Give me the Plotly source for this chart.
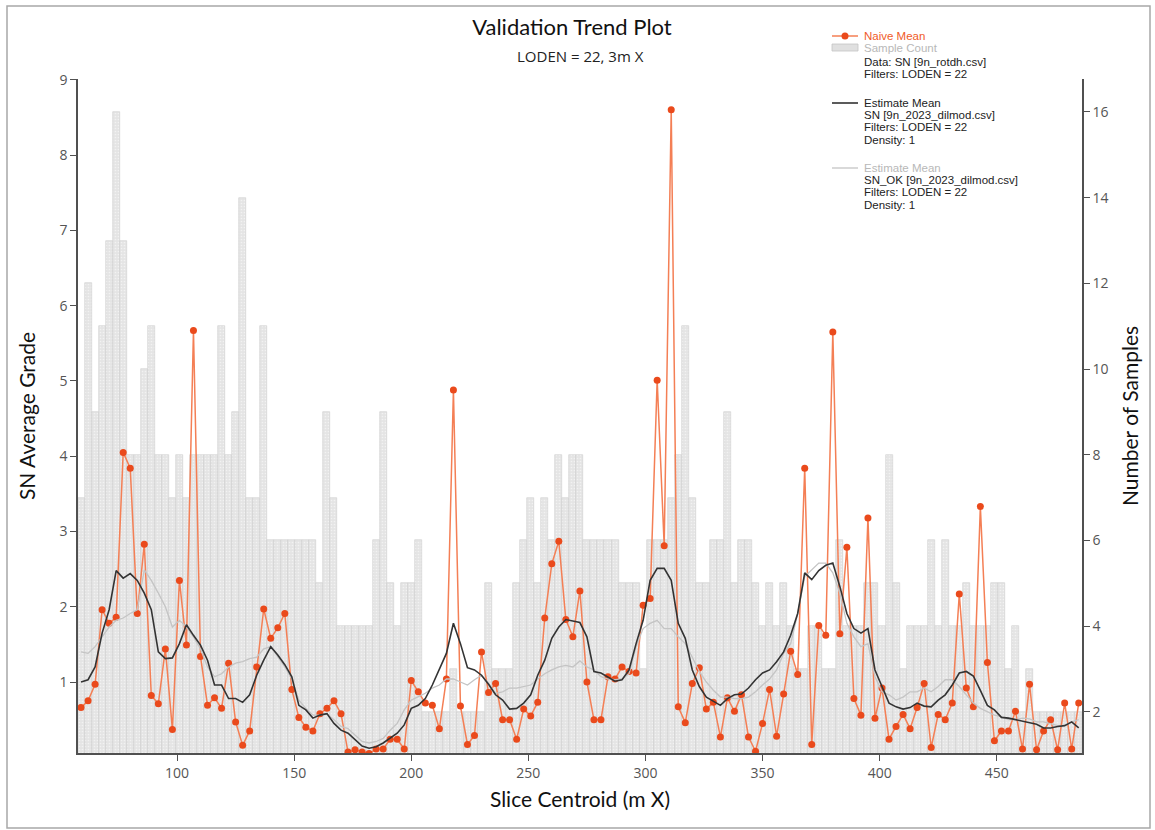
import plotly.graph_objects as go

# ---------------- data ----------------
SLICE_START = 59   # first slice centroid (m X)
SLICE_STEP = 3     # 3 m slices
N_SLICES = 143
slice_x = [SLICE_START + SLICE_STEP * i for i in range(N_SLICES)]

naive_mean = [
    0.66, 0.75, 0.97, 1.96, 1.78, 1.86, 4.05, 3.84, 1.91, 2.83,
    0.82, 0.71, 1.44, 0.37, 2.35, 1.49, 5.67, 1.34, 0.69, 0.79,
    0.65, 1.25, 0.47, 0.16, 0.35, 1.20, 1.97, 1.58, 1.72, 1.91,
    0.90, 0.53, 0.40, 0.35, 0.58, 0.65, 0.75, 0.58, 0.07, 0.10,
    0.07, 0.05, 0.11, 0.11, 0.24, 0.24, 0.11, 1.02, 0.87, 0.72,
    0.69, 0.38, 1.04, 4.88, 0.68, 0.17, 0.29, 1.40, 0.86, 0.98,
    0.50, 0.50, 0.24, 0.64, 0.55, 0.73, 1.85, 2.57, 2.87, 1.83,
    1.60, 2.21, 1.00, 0.50, 0.50, 1.07, 1.04, 1.20, 1.14, 1.12,
    2.02, 2.11, 5.01, 2.81, 8.60, 0.67, 0.46, 0.98, 1.19, 0.64,
    0.73, 0.27, 0.79, 0.61, 0.83, 0.27, 0.08, 0.45, 0.90, 0.28,
    0.84, 1.41, 1.10, 3.84, 0.17, 1.75, 1.62, 5.65, 1.64, 2.79,
    0.78, 0.56, 3.18, 0.52, 0.92, 0.24, 0.41, 0.57, 0.38, 0.66,
    0.98, 0.13, 0.57, 0.50, 0.72, 2.17, 0.92, 0.67, 3.33, 1.26,
    0.22, 0.35, 0.35, 0.61, 0.11, 0.97, 0.10, 0.35, 0.50, 0.10,
    0.72, 0.11, 0.72,
]

estimate_sn = [
    1.00, 1.03, 1.20, 1.65, 1.96, 2.48, 2.38, 2.44, 2.35, 2.18,
    1.96, 1.40, 1.31, 1.32, 1.51, 1.76, 1.62, 1.49, 1.29, 0.96,
    0.96, 0.78, 0.78, 0.73, 0.83, 1.09, 1.29, 1.47, 1.36, 1.23,
    1.07, 0.69, 0.63, 0.52, 0.56, 0.58, 0.45, 0.36, 0.32, 0.23,
    0.15, 0.12, 0.14, 0.19, 0.25, 0.32, 0.43, 0.65, 0.69, 0.78,
    0.96, 1.16, 1.38, 1.78, 1.51, 1.19, 1.16, 1.09, 0.97, 0.83,
    0.76, 0.64, 0.65, 0.72, 0.83, 1.09, 1.29, 1.58, 1.73, 1.83,
    1.81, 1.79, 1.60, 1.14, 1.12, 1.06, 1.01, 1.03, 1.16, 1.51,
    1.82, 2.35, 2.51, 2.51, 2.35, 1.78, 1.58, 1.16, 0.94, 0.80,
    0.74, 0.69, 0.78, 0.83, 0.84, 0.92, 1.03, 1.12, 1.16, 1.27,
    1.40, 1.62, 1.91, 2.45, 2.36, 2.48, 2.55, 2.58, 2.27, 1.91,
    1.71, 1.65, 1.71, 1.16, 0.94, 0.72, 0.67, 0.64, 0.66, 0.72,
    0.68, 0.67, 0.76, 0.83, 0.96, 1.12, 1.14, 1.08, 0.89, 0.69,
    0.63, 0.53, 0.52, 0.50, 0.47, 0.46, 0.44, 0.39, 0.39, 0.41,
    0.42, 0.47, 0.39,
]

estimate_sn_ok = [
    1.40, 1.38, 1.47, 1.60, 1.73, 1.82, 1.85, 1.91, 1.96, 2.49,
    2.35, 2.18, 2.00, 1.73, 1.82, 1.73, 1.60, 1.44, 1.20, 1.07,
    1.11, 1.20, 1.25, 1.27, 1.31, 1.33, 1.44, 1.47, 1.33, 1.20,
    1.04, 0.76, 0.65, 0.56, 0.56, 0.58, 0.50, 0.41, 0.38, 0.30,
    0.21, 0.19, 0.21, 0.25, 0.36, 0.45, 0.63, 0.76, 0.80, 0.85,
    0.92, 0.96, 1.04, 1.04, 1.00, 0.96, 1.03, 1.09, 0.98, 0.85,
    0.87, 0.92, 0.92, 0.94, 0.96, 1.04, 1.11, 1.16, 1.20, 1.22,
    1.20, 1.28, 1.20, 1.16, 1.07, 1.04, 1.03, 1.04, 1.11, 1.47,
    1.71, 1.78, 1.82, 1.71, 1.71, 1.60, 1.51, 1.33, 1.14, 1.00,
    0.89, 0.80, 0.80, 0.78, 0.78, 0.80, 0.87, 0.96, 1.04, 1.16,
    1.38, 1.51, 1.91, 2.40, 2.49, 2.58, 2.58, 2.45, 2.18, 1.78,
    1.60, 1.47, 1.51, 1.07, 0.87, 0.83, 0.76, 0.80, 0.87, 0.87,
    0.92, 0.87, 0.94, 1.03, 1.03, 0.94, 0.83, 0.72, 0.65, 0.61,
    0.56, 0.54, 0.50, 0.50, 0.52, 0.51, 0.47, 0.47, 0.45, 0.42,
    0.42, 0.47, 0.50,
]

sample_count = [
    7, 12, 9, 11, 13, 16, 13, 8, 8, 10,
    11, 8, 8, 7, 8, 7, 8, 8, 8, 8,
    11, 8, 9, 14, 7, 7, 11, 6, 6, 6,
    6, 6, 6, 6, 5, 9, 7, 4, 4, 4,
    4, 4, 6, 9, 5, 4, 5, 5, 6, 2,
    2, 2, 2, 3, 2, 2, 2, 2, 5, 3,
    3, 3, 5, 6, 7, 5, 7, 6, 8, 7,
    8, 8, 6, 6, 6, 6, 6, 5, 5, 5,
    3, 6, 6, 6, 7, 8, 11, 7, 5, 5,
    6, 6, 9, 5, 6, 6, 5, 4, 5, 4,
    5, 4, 3, 3, 4, 4, 3, 3, 6, 4,
    4, 4, 5, 5, 4, 8, 5, 3, 4, 4,
    4, 6, 4, 6, 4, 4, 5, 4, 4, 4,
    5, 5, 3, 4, 2, 3, 2, 2, 2, 2,
    2, 2, 2,
]

x_ticks = [100, 150, 200, 250, 300, 350, 400, 450]
grade_ticks = [1, 2, 3, 4, 5, 6, 7, 8, 9]
count_ticks = [2, 4, 6, 8, 10, 12, 14, 16]

# legend text blocks (line by line)
legend_blocks = [
    [("Naive Mean", "#f05a28")],
    [("Sample Count", "#b8b8b8"), ("Data: SN [9n_rotdh.csv]", "#222222"),
     ("Filters: LODEN = 22", "#222222")],
    [("Estimate Mean", "#222222"), ("SN [9n_2023_dilmod.csv]", "#222222"),
     ("Filters: LODEN = 22", "#222222"), ("Density: 1", "#222222")],
    [("Estimate Mean", "#b8b8b8"), ("SN_OK [9n_2023_dilmod.csv]", "#222222"),
     ("Filters: LODEN = 22", "#222222"), ("Density: 1", "#222222")],
]

# ---------------- style / geometry ----------------
W, H = 1155, 830
ML, MR, MT, MB = 78, 73, 79, 77
PW, PH = W - ML - MR, H - MT - MB


def px_x(p):
    return (p - ML) / PW


def px_y(p):
    return (H - MB - p) / PH


ORANGE_LINE = "#f47f55"
ORANGE_MARK = "#ea4a1c"
AXIS_COL = "#505050"
TICK_FONT = dict(family="Open Sans", size=14, color="#555555")
TITLE_FONT = dict(family="Lato", size=21, color="#111111")
LEG_FONT = "Liberation Sans"

fig = go.Figure()

fig.add_trace(go.Bar(
    x=slice_x, y=sample_count, width=SLICE_STEP, yaxis="y", showlegend=False,
    name="Sample Count",
    marker=dict(color="#e4e4e4", line=dict(color="#cfcfcf", width=0.6),
                pattern=dict(shape=".", fgcolor="#ffffff", size=3, solidity=0.25, fillmode="overlay")),
))

fig.add_trace(go.Scatter(
    x=slice_x, y=naive_mean, yaxis="y2", mode="lines+markers", showlegend=False,
    name="Naive Mean",
    line=dict(color=ORANGE_LINE, width=1.5),
    marker=dict(color=ORANGE_MARK, size=7),
))

fig.add_trace(go.Scatter(
    x=slice_x, y=estimate_sn_ok, yaxis="y2", mode="lines", showlegend=False,
    name="Estimate Mean SN_OK",
    line=dict(color="#c4c4c4", width=1.3),
))

fig.add_trace(go.Scatter(
    x=slice_x, y=estimate_sn, yaxis="y2", mode="lines", showlegend=False,
    name="Estimate Mean SN",
    line=dict(color="#333333", width=1.6),
))

axis_common = dict(showgrid=False, zeroline=False, showline=True, linecolor=AXIS_COL,
                   linewidth=1.5, ticks="outside", ticklen=6, tickcolor=AXIS_COL,
                   tickwidth=1.2, tickfont=TICK_FONT)

# ---- legend drawn as annotations + small symbols ----
annotations = [dict(text="LODEN = 22, 3m X", xref="paper", yref="paper",
                    x=px_x(580), y=px_y(56), xanchor="center", yanchor="middle",
                    showarrow=False, font=dict(family="Open Sans", size=15, color="#222222"))]
shapes = [dict(type="rect", xref="paper", yref="paper",
               x0=px_x(7), x1=px_x(1150), y0=px_y(828), y1=px_y(6),
               line=dict(color="#a8a8a8", width=1.5), fillcolor="rgba(0,0,0,0)", layer="below")]

block_tops = [36, 48, 103, 168]
line_h = 12.2
TEXT_X = 862
for bi, block in enumerate(legend_blocks):
    y0 = block_tops[bi]
    for li, (txt, col) in enumerate(block):
        yy = y0 + li * line_h + (1.8 if (bi == 1 and li >= 1) else 0)
        annotations.append(dict(text=txt, xref="paper", yref="paper", x=px_x(TEXT_X), y=px_y(yy),
                                xanchor="left", yanchor="middle", showarrow=False,
                                font=dict(family=LEG_FONT, size=11.5, color=col)))

SYM_X0, SYM_X1 = 832, 858
# Naive mean symbol
shapes.append(dict(type="line", xref="paper", yref="paper", x0=px_x(SYM_X0), x1=px_x(SYM_X1),
                   y0=px_y(36), y1=px_y(36), line=dict(color=ORANGE_LINE, width=1.5)))
shapes.append(dict(type="circle", xref="paper", yref="paper", x0=px_x(841.5), x1=px_x(848.5),
                   y0=px_y(39.5), y1=px_y(32.5), fillcolor=ORANGE_MARK, line=dict(width=0)))
# Sample count symbol
shapes.append(dict(type="rect", xref="paper", yref="paper", x0=px_x(SYM_X0), x1=px_x(SYM_X1),
                   y0=px_y(51), y1=px_y(44), fillcolor="#e0e0e0", line=dict(color="#c4c4c4", width=0.8)))
# Estimate mean symbols
shapes.append(dict(type="line", xref="paper", yref="paper", x0=px_x(SYM_X0), x1=px_x(SYM_X1),
                   y0=px_y(103), y1=px_y(103), line=dict(color="#333333", width=1.6)))
shapes.append(dict(type="line", xref="paper", yref="paper", x0=px_x(SYM_X0), x1=px_x(SYM_X1),
                   y0=px_y(168), y1=px_y(168), line=dict(color="#c4c4c4", width=1.3)))

fig.update_layout(
    width=W, height=H,
    margin=dict(l=ML, r=MR, t=MT, b=MB),
    paper_bgcolor="white", plot_bgcolor="white",
    bargap=0,
    showlegend=False,
    title=dict(text="Validation Trend Plot", x=572 / W, xanchor="center",
               y=1 - 27 / H, yanchor="middle",
               font=dict(family="Lato", size=22, color="#111111")),
    xaxis=dict(range=[57.7, 486.4], tickvals=x_ticks, **axis_common,
               title=dict(text="Slice Centroid (m X)", font=TITLE_FONT, standoff=12)),
    yaxis=dict(range=[1.04, 16.77], tickvals=count_ticks, side="right", **axis_common,
               title=dict(text="Number of Samples", font=TITLE_FONT, standoff=16)),
    yaxis2=dict(range=[0.057, 9.01], tickvals=grade_ticks, side="left", overlaying="y",
                **axis_common,
                title=dict(text="SN Average Grade", font=TITLE_FONT, standoff=18)),
    annotations=annotations,
    shapes=shapes,
)

fig.write_html("out.html", config={"displayModeBar": False},
               post_script="document.body.style.margin='0px';")
